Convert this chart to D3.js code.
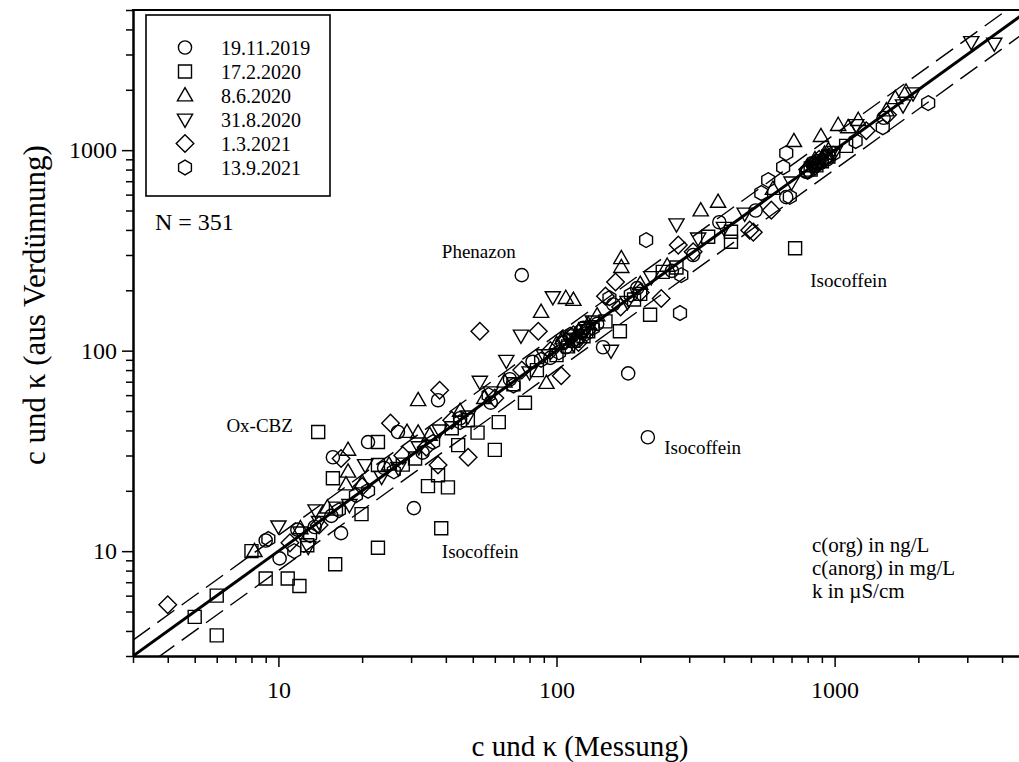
<!DOCTYPE html>
<html><head><meta charset="utf-8">
<script src="https://cdn.jsdelivr.net/npm/d3@7"></script>
<style>body{margin:0;background:#fff;} svg{display:block;} text{font-family:"Liberation Serif","Times New Roman",serif;fill:#000;}</style>
</head><body><svg id="chart" width="1019" height="762"></svg>
<script>
// ---------- data ----------
const seriesNames = ["19.11.2019","17.2.2020","8.6.2020","31.8.2020","1.3.2021","13.9.2021"];
const seriesSymbols = ["circle","square","triangle","triangleDown","diamond","hexagon"];

const circles = [[9.0,11.3],[10.1,9.2],[11.7,12.8],[13.5,13.2],[15.5,15.0],[16.8,12.3],[15.7,29.4],[21,35],[26.9,39.3],[37.5,56.6],[30.7,16.4],[24,26],[33,31],[45,46],[58,55],[68,72],[75,238],[82,88],[95,92],[105,110],[112,118],[118,112],[125,130],[140,136],[147,104],[160,170],[181,77],[195,205],[213,37],[260,250],[310,300],[385,437],[520,500],[670,583],[790,780],[830,860],[870,850],[940,900],[1500,1450],[108,104],[122,125],[850,830],[900,880]];
const squares = [[5.0,4.7],[6.0,6.0],[6.0,3.8],[8.0,10.0],[9.0,7.3],[10.8,7.3],[11.9,6.7],[12.7,10.7],[16,8.6],[16.1,16.3],[19.9,15.3],[13.9,39.3],[15.7,23.1],[22.8,35],[22.8,26.9],[22.8,10.4],[34.5,21.1],[40.7,20.8],[37.5,23.9],[44.3,33.8],[52,39],[60,32],[62,44],[77,55],[38.5,13],[169,125],[217,151],[241,247],[351,370],[424,392],[424,349],[721,324],[28,27],[31,29],[42,41],[48,45],[70,68],[85,80],[100,95],[110,105],[130,125],[150,140],[190,180],[200,192],[270,260],[820,800],[900,880],[1100,1050],[115,112],[125,118],[860,840],[950,930]];
const triangles = [[8.2,10.0],[15,16.5],[17.8,32],[17.8,24.9],[17.5,21.5],[29,39.3],[31.8,39],[31.8,56.6],[88,156],[108,183],[115,179],[92,69],[171,289],[171,261],[330,500],[381,552],[714,1109],[893,1175],[1030,1334],[1119,1300],[1216,1413],[1535,1577],[1652,1816],[1807,1954],[12,13],[20,22],[25,27],[35,38],[45,50],[55,58],[65,70],[100,108],[120,125],[140,150],[200,215],[250,265],[600,640],[850,900],[950,1000],[105,115],[130,135],[800,830],[920,960]];
const downTriangles = [[10,13.3],[12.8,10.5],[12,12.4],[13.6,16],[20.5,26.9],[23.5,23.5],[53,70],[66,89],[74.5,119],[97,185],[157,100],[219,233],[270,427],[323,363],[475,483],[1196,1334],[1762,1675],[1914,1922],[3100,3460],[3750,3400],[14,14],[18,17],[27,26],[32,33],[38,40],[48,47],[58,62],[80,78],[90,95],[110,115],[125,120],[135,140],[180,175],[400,410],[700,690],[880,870],[1000,980],[115,108],[128,130],[830,820],[960,940]];
const diamonds = [[4.0,5.4],[16.8,29],[25.3,43.5],[38,63.5],[37.5,26.9],[48.1,29.4],[53,125],[86,125],[104,75],[150,187],[163,220],[238,182],[274,336],[310,311],[495,399],[510,390],[592,502],[11,11],[14,13.5],[20,21],[28,30],[34,33],[42,45],[60,58],[75,80],[95,100],[115,120],[130,128],[170,165],[200,195],[850,830],[920,900],[1300,1250],[1550,1500],[108,112],[120,110],[800,800],[880,900]];
const hexagons = [[9.2,11.5],[11.4,10],[16.5,16],[21,20],[155,183],[210,356],[278,154],[281,238],[545,611],[577,709],[653,822],[670,966],[690,585],[1190,1110],[1490,1300],[2170,1716],[13,12],[19,19],[26,25],[36,35],[45,44],[57,60],[70,67],[88,90],[102,98],[118,115],[135,130],[185,190],[800,780],[880,860],[990,960],[112,120],[128,122],[840,850],[930,920]];
const seriesData = [circles, squares, triangles, downTriangles, diamonds, hexagons];

const xDomain = [3, 5000];
const yDomain = [3, 5000];
const xTickLabels = [10, 100, 1000];
const yTickLabels = [10, 100, 1000];
const lineFactors = [1, 1.2, 0.8];     // y = f * x
const annotations = [
  {text:"Phenazon", x:38.7, y:289},
  {text:"Ox-CBZ", x:6.5, y:39.3},
  {text:"Isocoffein", x:38.7, y:9.2},
  {text:"Isocoffein", x:244, y:30.5},
  {text:"Isocoffein", x:817, y:207}
];
const unitLines = ["c(org) in ng/L","c(anorg) in mg/L","k in µS/cm"];
const nLabel = "N = 351";
const xTitle = "c und κ (Messung)";
const yTitle = "c und κ (aus Verdünnung)";

// ---------- layout ----------
const svg = d3.select("#chart");
const L = 133, R = 1029, T = 10, B = 656;
const x = d3.scaleLog().domain(xDomain).range([L, R]);
const y = d3.scaleLog().domain(yDomain).range([B, T]);

svg.append("defs").append("clipPath").attr("id","plotclip")
  .append("rect").attr("x",L).attr("y",T).attr("width",R-L).attr("height",B-T);

function symPath(type){
  const p = d3.path();
  if(type==="circle"){ p.arc(0,0,6.6,0,2*Math.PI); p.closePath(); }
  else if(type==="square"){ p.rect(-6.5,-6.5,13,13); }
  else if(type==="triangle"){ p.moveTo(0,-7.8); p.lineTo(7.6,5.4); p.lineTo(-7.6,5.4); p.closePath(); }
  else if(type==="triangleDown"){ p.moveTo(0,7.8); p.lineTo(7.6,-5.4); p.lineTo(-7.6,-5.4); p.closePath(); }
  else if(type==="diamond"){ p.moveTo(0,-8.8); p.lineTo(8.8,0); p.lineTo(0,8.8); p.lineTo(-8.8,0); p.closePath(); }
  else if(type==="hexagon"){ for(let i=0;i<6;i++){ const a=-Math.PI/2+i*Math.PI/3; const px=7.4*Math.cos(a), py=7.4*Math.sin(a); if(i===0)p.moveTo(px,py); else p.lineTo(px,py);} p.closePath(); }
  return p.toString();
}

// lines
const lg = svg.append("g").attr("clip-path","url(#plotclip)");
lineFactors.forEach((f,i)=>{
  lg.append("path")
    .attr("d", d3.line().x(d=>x(d)).y(d=>y(d*f))(xDomain))
    .attr("fill","none").attr("stroke","#000")
    .attr("stroke-width", i===0?3:1.4)
    .attr("stroke-dasharray", i===0?null:"21,9");
});

// points
const pg = svg.append("g").attr("clip-path","url(#plotclip)");
seriesData.forEach((arr,si)=>{
  pg.selectAll(null).data(arr).join("path")
    .attr("d", symPath(seriesSymbols[si]))
    .attr("transform", d=>`translate(${x(d[0])},${y(d[1])})`)
    .attr("fill","none").attr("stroke","#000").attr("stroke-width",1.4);
});

// axes
const minorX = x.ticks().filter(v=>!xTickLabels.includes(v));
const minorY = y.ticks().filter(v=>!yTickLabels.includes(v));
function styleAxis(g){ g.selectAll("path.domain").attr("stroke","#000").attr("stroke-width",2); g.selectAll("line").attr("stroke","#000").attr("stroke-width",1.5); }

svg.append("g").attr("transform",`translate(0,${B})`)
  .call(d3.axisBottom(x).tickValues(minorX).tickSize(7).tickSizeOuter(0).tickFormat(""))
  .call(styleAxis);
svg.append("g").attr("transform",`translate(0,${B})`)
  .call(d3.axisBottom(x).tickValues(xTickLabels).tickSize(11).tickSizeOuter(0).tickFormat(d3.format("d")).tickPadding(14))
  .call(styleAxis)
  .call(g=>g.selectAll("text").attr("font-size",24).attr("font-family","Liberation Serif").attr("fill","#000"));
svg.append("g").attr("transform",`translate(${L},0)`)
  .call(d3.axisLeft(y).tickValues(minorY).tickSize(7).tickSizeOuter(0).tickFormat(""))
  .call(styleAxis);
svg.append("g").attr("transform",`translate(${L},0)`)
  .call(d3.axisLeft(y).tickValues(yTickLabels).tickSize(11).tickSizeOuter(0).tickFormat(d3.format("d")).tickPadding(5))
  .call(styleAxis)
  .call(g=>g.selectAll("text").attr("font-size",24).attr("font-family","Liberation Serif").attr("fill","#000"));

// top frame
svg.append("line").attr("x1",L-1).attr("x2",R).attr("y1",T).attr("y2",T).attr("stroke","#000").attr("stroke-width",2);

// titles
svg.append("text").attr("x",580).attr("y",756).attr("text-anchor","middle").attr("font-size",29).text(xTitle);
svg.append("text").attr("transform","translate(45,305) rotate(-90)").attr("text-anchor","middle").attr("font-size",31).text(yTitle);

// annotations
svg.append("g").selectAll("text").data(annotations).join("text")
  .attr("x",d=>x(d.x)).attr("y",d=>y(d.y)).attr("font-size",19).text(d=>d.text);
svg.append("g").selectAll("text").data(unitLines).join("text")
  .attr("x",812).attr("y",(d,i)=>552+i*23).attr("font-size",21).text(d=>d);

// legend
svg.append("rect").attr("x",146).attr("y",15).attr("width",184).attr("height",181)
  .attr("fill","none").attr("stroke","#000").attr("stroke-width",1.6);
const leg = svg.append("g").selectAll("g").data(seriesNames).join("g")
  .attr("transform",(d,i)=>`translate(0,${47.5+i*24})`);
leg.append("path").attr("d",(d,i)=>symPath(seriesSymbols[i])).attr("transform","translate(185,0)")
  .attr("fill","none").attr("stroke","#000").attr("stroke-width",1.4);
leg.append("text").attr("x",221).attr("y",7).attr("font-size",20).text(d=>d);
svg.append("text").attr("x",155).attr("y",230).attr("font-size",24).text(nLabel);
</script></body></html>
